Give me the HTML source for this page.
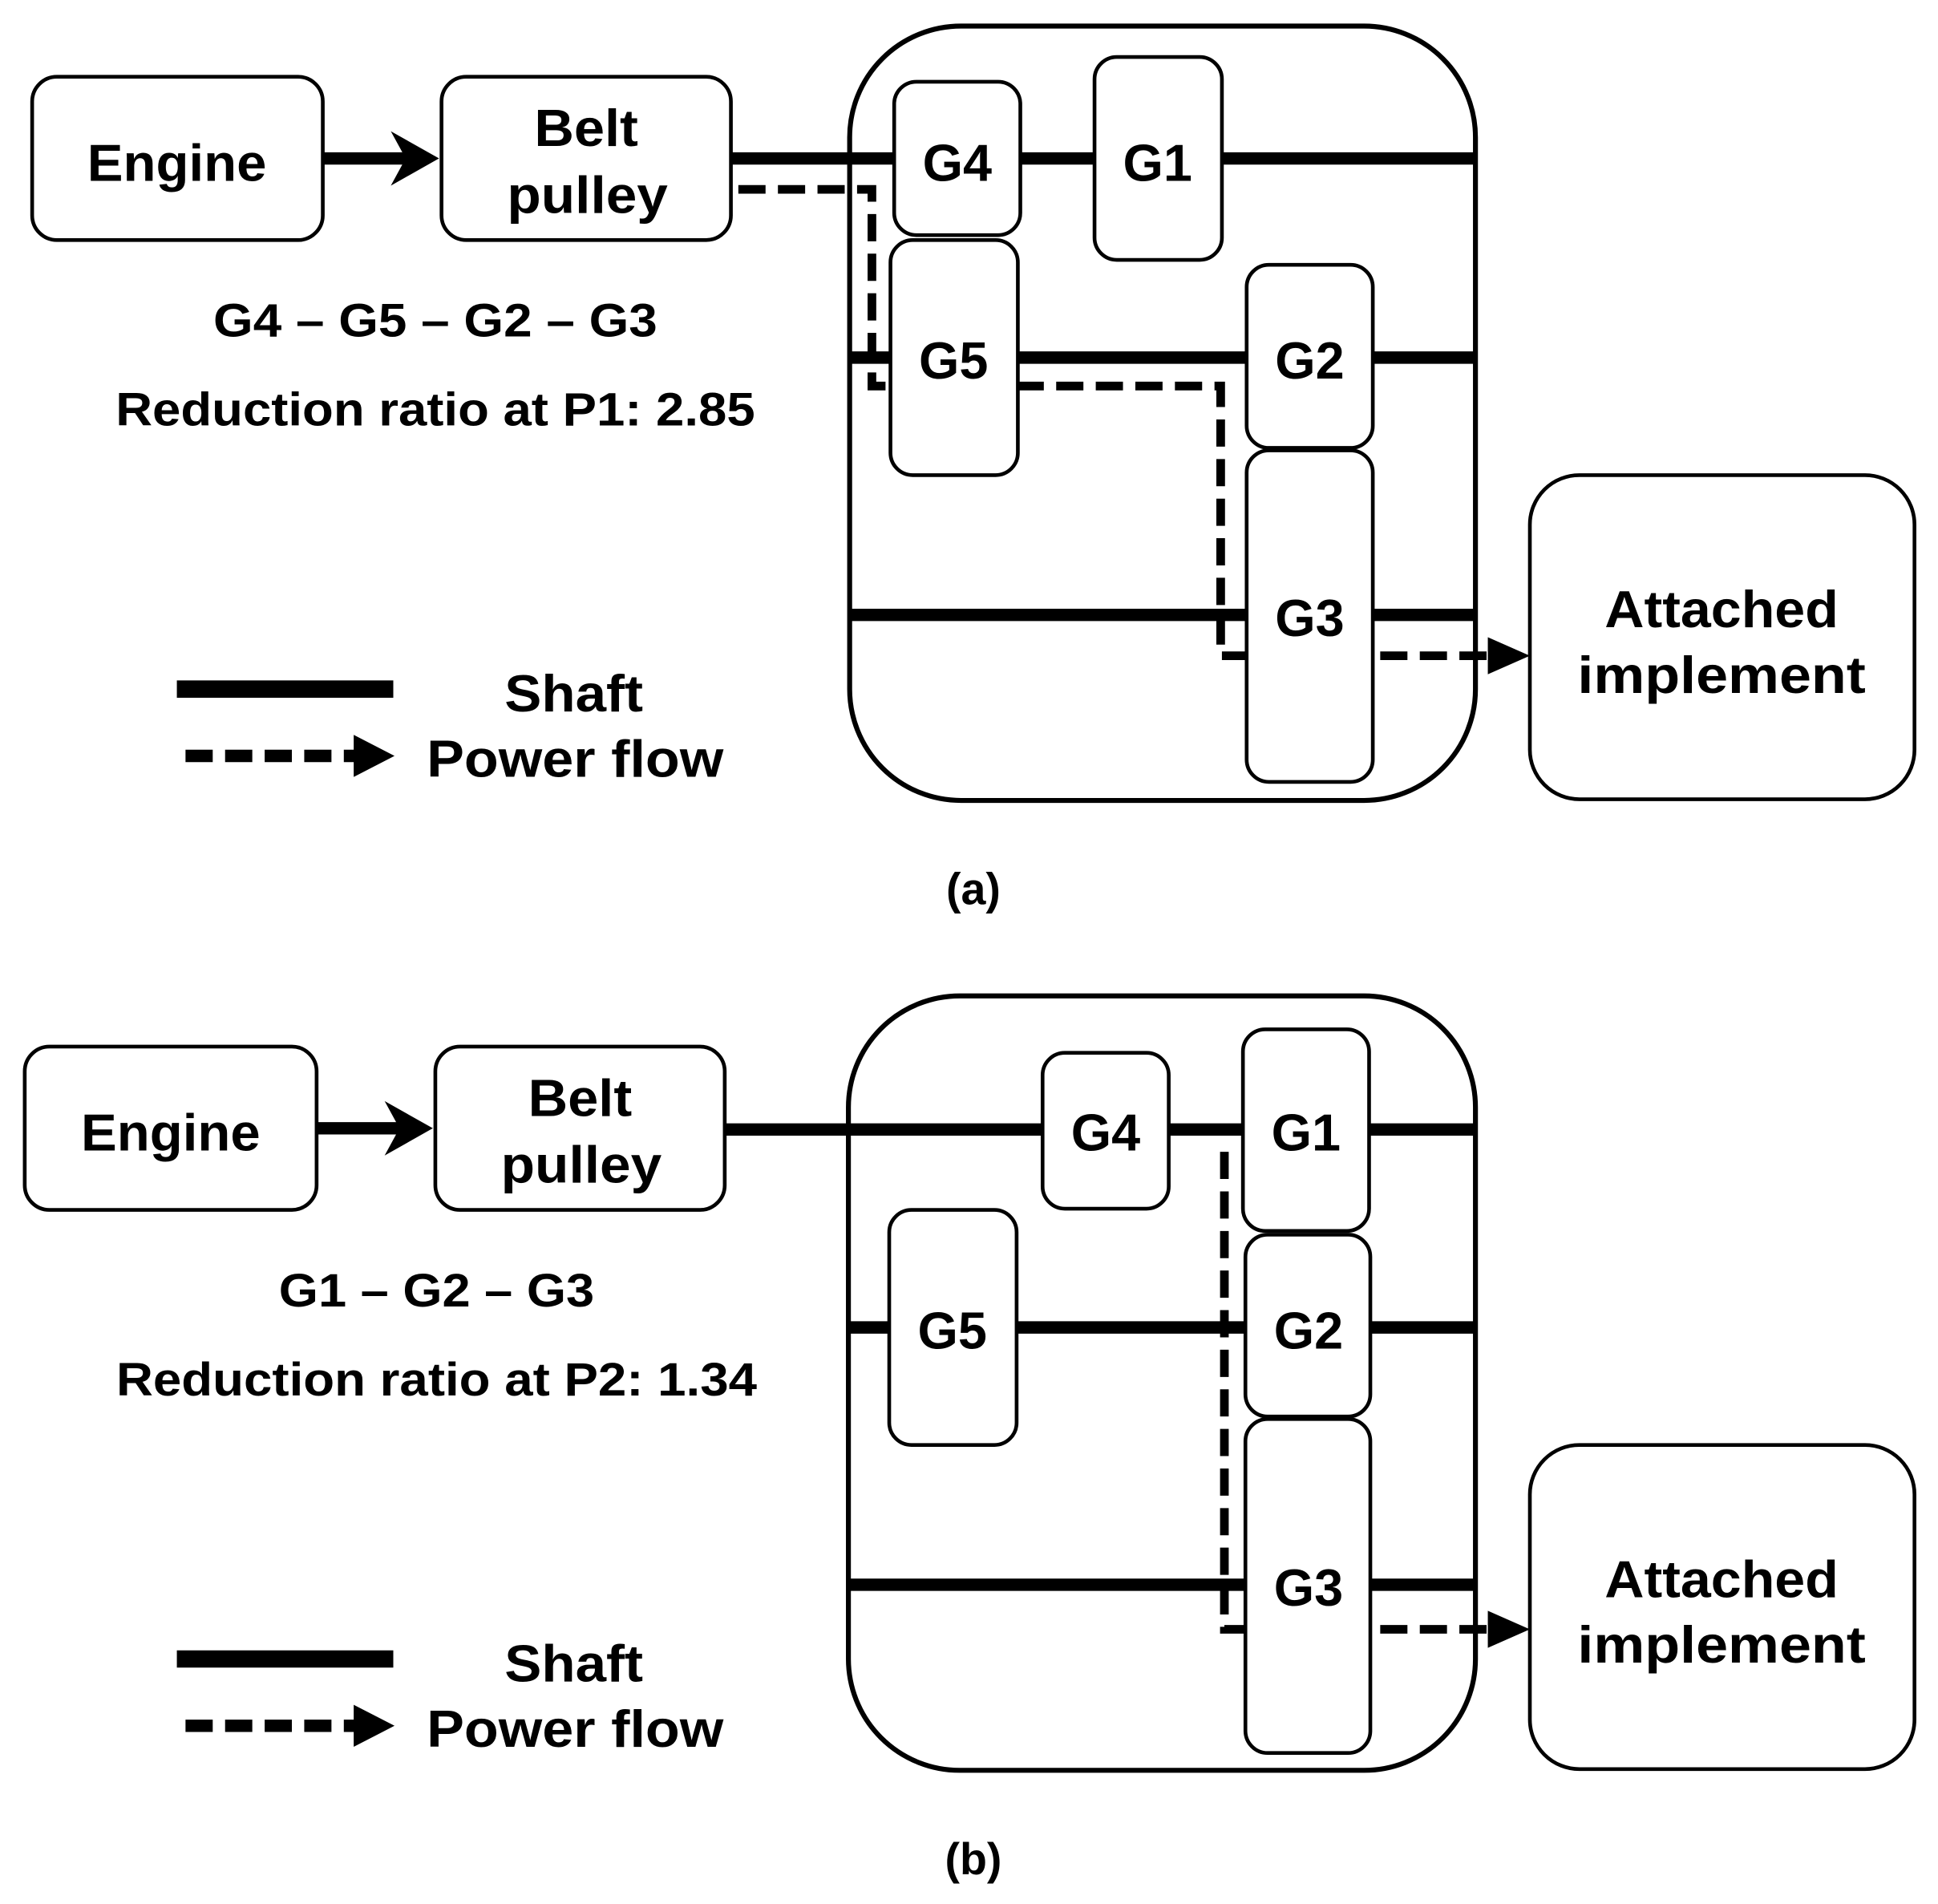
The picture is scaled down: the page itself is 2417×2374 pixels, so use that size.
<!DOCTYPE html>
<html><head><meta charset="utf-8"><style>
html,body{margin:0;padding:0;background:#fff;}
svg{display:block;}
text{font-family:"Liberation Sans",sans-serif;font-weight:bold;fill:#000;}
</style></head><body>
<svg width="2417" height="2374" viewBox="0 0 1567 1539" xmlns="http://www.w3.org/2000/svg">

<!-- ========== (a) ========== -->
<g>
<line x1="591" y1="128" x2="1193" y2="128" stroke="#000" stroke-width="10"/>
<line x1="687" y1="289" x2="1193" y2="289" stroke="#000" stroke-width="10"/>
<line x1="687" y1="497" x2="1193" y2="497" stroke="#000" stroke-width="10"/>
<rect x="687" y="21" width="506" height="626" rx="90" fill="none" stroke="#000" stroke-width="4"/>
<polyline points="597,153 705,153 705,312 987,312 987,530 1205,530" fill="none" stroke="#000" stroke-width="7" stroke-dasharray="22,10"/>
<polygon points="1203,515 1237,530 1203,545" fill="#000"/>
<rect x="723" y="66" width="102" height="124" rx="18" fill="#fff" stroke="#000" stroke-width="3"/>
<rect x="885" y="46" width="103" height="164" rx="18" fill="#fff" stroke="#000" stroke-width="3"/>
<rect x="720" y="194" width="103" height="190" rx="18" fill="#fff" stroke="#000" stroke-width="3"/>
<rect x="1008" y="214" width="102" height="148" rx="18" fill="#fff" stroke="#000" stroke-width="3"/>
<rect x="1008" y="364" width="102" height="268" rx="18" fill="#fff" stroke="#000" stroke-width="3"/>
<text x="774" y="146" font-size="42" text-anchor="middle">G4</text>
<text x="936" y="146" font-size="42" text-anchor="middle">G1</text>
<text x="771" y="306" font-size="42" text-anchor="middle">G5</text>
<text x="1059" y="306" font-size="42" text-anchor="middle">G2</text>
<text x="1059" y="514" font-size="42" text-anchor="middle">G3</text>
<rect x="26" y="62" width="235" height="132" rx="20" fill="#fff" stroke="#000" stroke-width="3"/>
<text x="143" y="146" font-size="42" text-anchor="middle" textLength="145" lengthAdjust="spacingAndGlyphs">Engine</text>
<line x1="261" y1="128" x2="330" y2="128" stroke="#000" stroke-width="10"/>
<polygon points="316,106 355,128 316,150 328,128" fill="#000"/>
<rect x="357" y="62" width="234" height="132" rx="20" fill="#fff" stroke="#000" stroke-width="3"/>
<text x="474" y="118" font-size="42" text-anchor="middle" textLength="84" lengthAdjust="spacingAndGlyphs">Belt</text>
<text x="475" y="172" font-size="42" text-anchor="middle" textLength="130" lengthAdjust="spacingAndGlyphs">pulley</text>
<rect x="1237" y="384" width="311" height="262" rx="40" fill="#fff" stroke="#000" stroke-width="3"/>
<text x="1392" y="507" font-size="42" text-anchor="middle" textLength="189" lengthAdjust="spacingAndGlyphs">Attached</text>
<text x="1392" y="560" font-size="42" text-anchor="middle" textLength="233" lengthAdjust="spacingAndGlyphs">implement</text>
<text x="352" y="272" font-size="38" text-anchor="middle" textLength="359" lengthAdjust="spacingAndGlyphs">G4 – G5 – G2 – G3</text>
<text x="352" y="344" font-size="38" text-anchor="middle" textLength="517" lengthAdjust="spacingAndGlyphs">Reduction ratio at P1: 2.85</text>
<line x1="143" y1="557" x2="318" y2="557" stroke="#000" stroke-width="14"/>
<line x1="150" y1="611" x2="292" y2="611" stroke="#000" stroke-width="10" stroke-dasharray="22,10"/>
<polygon points="286,594 319,611 286,628" fill="#000"/>
<text x="464" y="575" font-size="42" text-anchor="middle" textLength="112" lengthAdjust="spacingAndGlyphs">Shaft</text>
<text x="465" y="628" font-size="42" text-anchor="middle" textLength="240" lengthAdjust="spacingAndGlyphs">Power flow</text>
<text x="787" y="731" font-size="36" text-anchor="middle">(a)</text>
</g>

<!-- ========== (b) ========== -->
<g>
<line x1="586" y1="913" x2="1193" y2="913" stroke="#000" stroke-width="10"/>
<line x1="687" y1="1073" x2="1193" y2="1073" stroke="#000" stroke-width="10"/>
<line x1="687" y1="1281" x2="1193" y2="1281" stroke="#000" stroke-width="10"/>
<rect x="686" y="805" width="507" height="626" rx="90" fill="none" stroke="#000" stroke-width="4"/>
<polyline points="990,931 990,1317 1205,1317" fill="none" stroke="#000" stroke-width="7" stroke-dasharray="22,10"/>
<polygon points="1203,1302 1237,1317 1203,1332" fill="#000"/>
<rect x="843" y="851" width="102" height="126" rx="18" fill="#fff" stroke="#000" stroke-width="3"/>
<rect x="1005" y="832" width="102" height="163" rx="18" fill="#fff" stroke="#000" stroke-width="3"/>
<rect x="719" y="978" width="103" height="190" rx="18" fill="#fff" stroke="#000" stroke-width="3"/>
<rect x="1007" y="998" width="101" height="147" rx="18" fill="#fff" stroke="#000" stroke-width="3"/>
<rect x="1007" y="1147" width="101" height="270" rx="18" fill="#fff" stroke="#000" stroke-width="3"/>
<text x="894" y="930" font-size="42" text-anchor="middle">G4</text>
<text x="1056" y="930" font-size="42" text-anchor="middle">G1</text>
<text x="770" y="1090" font-size="42" text-anchor="middle">G5</text>
<text x="1058" y="1090" font-size="42" text-anchor="middle">G2</text>
<text x="1058" y="1298" font-size="42" text-anchor="middle">G3</text>
<rect x="20" y="846" width="236" height="132" rx="20" fill="#fff" stroke="#000" stroke-width="3"/>
<text x="138" y="930" font-size="42" text-anchor="middle" textLength="145" lengthAdjust="spacingAndGlyphs">Engine</text>
<line x1="256" y1="912" x2="325" y2="912" stroke="#000" stroke-width="10"/>
<polygon points="311,890 350,912 311,934 323,912" fill="#000"/>
<rect x="352" y="846" width="234" height="132" rx="20" fill="#fff" stroke="#000" stroke-width="3"/>
<text x="469" y="902" font-size="42" text-anchor="middle" textLength="84" lengthAdjust="spacingAndGlyphs">Belt</text>
<text x="470" y="956" font-size="42" text-anchor="middle" textLength="130" lengthAdjust="spacingAndGlyphs">pulley</text>
<rect x="1237" y="1168" width="311" height="262" rx="40" fill="#fff" stroke="#000" stroke-width="3"/>
<text x="1392" y="1291" font-size="42" text-anchor="middle" textLength="189" lengthAdjust="spacingAndGlyphs">Attached</text>
<text x="1392" y="1344" font-size="42" text-anchor="middle" textLength="233" lengthAdjust="spacingAndGlyphs">implement</text>
<text x="353" y="1056" font-size="38" text-anchor="middle" textLength="255" lengthAdjust="spacingAndGlyphs">G1 – G2 – G3</text>
<text x="353" y="1128" font-size="38" text-anchor="middle" textLength="518" lengthAdjust="spacingAndGlyphs">Reduction ratio at P2: 1.34</text>
<line x1="143" y1="1341" x2="318" y2="1341" stroke="#000" stroke-width="14"/>
<line x1="150" y1="1395" x2="292" y2="1395" stroke="#000" stroke-width="10" stroke-dasharray="22,10"/>
<polygon points="286,1378 319,1395 286,1412" fill="#000"/>
<text x="464" y="1359" font-size="42" text-anchor="middle" textLength="112" lengthAdjust="spacingAndGlyphs">Shaft</text>
<text x="465" y="1412" font-size="42" text-anchor="middle" textLength="240" lengthAdjust="spacingAndGlyphs">Power flow</text>
<text x="787" y="1515" font-size="36" text-anchor="middle">(b)</text>
</g>
</svg>
</body></html>
